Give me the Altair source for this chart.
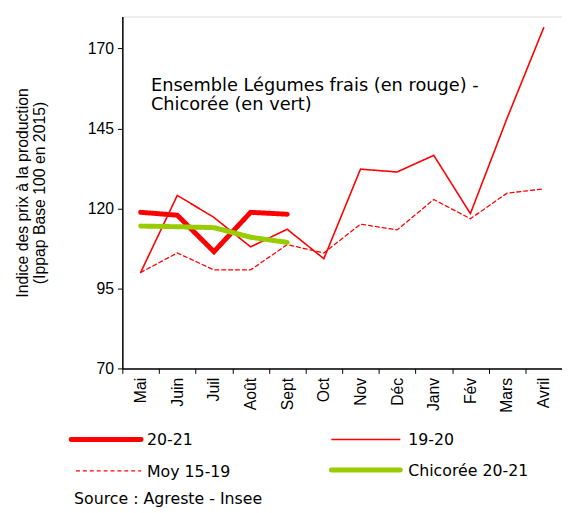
import altair as alt
import pandas as pd

months = ["Mai", "Juin", "Juil", "Août", "Sept", "Oct", "Nov", "Déc", "Janv", "Fév", "Mars", "Avril"]
s_2021 = [118.8, 117.9, 106.5, 118.8, 118.2]
s_1920 = [100.0, 124.1, 117.2, 108.0, 113.5, 104.3, 132.3, 131.4, 136.6, 118.4, 148.2, 176.5]
s_moy = [100.0, 106.1, 100.8, 100.8, 108.7, 106.1, 115.1, 113.3, 122.8, 116.8, 124.8, 126.1]
s_chic = [114.5, 114.3, 114.0, 111.0, 109.4]

series_names = ["20-21", "19-20", "Moy 15-19", "Chicorée 20-21"]
series_vals = [s_2021, s_1920, s_moy, s_chic]
colors = ["#FF0000", "#FF0000", "#FF0000", "#99CC00"]
dashes = [[1, 0], [1, 0], [4, 3], [1, 0]]
widths = [5, 1.6, 1.3, 5]

# legend layout (pixels relative to plot origin): symbol start, symbol end, label x, row y
leg_x0 = [-52, 212, -47, 212]
leg_x1 = [19, 282, 19, 282]
leg_tx = [25, 290, 25, 290]
leg_y = [429, 429, 461, 460]

rows = []
for name, vals in zip(series_names, series_vals):
    for m, v in zip(months, vals):
        rows.append({"mois": m, "valeur": v, "serie": name})
df = pd.DataFrame(rows)

font = "Liberation Sans"
wide = "DejaVu Sans"

lines = alt.Chart(df).mark_line(strokeCap="round").encode(
    x=alt.X("mois:N", sort=months, scale=alt.Scale(type="band", domain=months, paddingInner=0, paddingOuter=0),
            axis=alt.Axis(title=None, labelAngle=-90, labelFontSize=16, labelFont=font, labelColor="black",
                          tickBand="extent", tickColor="black", tickSize=5, domainColor="black",
                          domainWidth=1.5, labelAlign="right", labelBaseline="middle", labelPadding=4)),
    y=alt.Y("valeur:Q", scale=alt.Scale(domain=[70, 180], nice=False, zero=False),
            axis=alt.Axis(values=[70, 95, 120, 145, 170], title=["Indice des prix à la production", "(Ippap Base 100 en 2015)"],
                          titleFont=font, titleFontSize=16, titleFontWeight="normal", titleColor="black",
                          titleLineHeight=18,
                          labelFontSize=16, labelFont=font, labelColor="black", tickColor="black", tickSize=5,
                          domainColor="black", domainWidth=1.5, titlePadding=40, labelPadding=4, grid=False)),
    color=alt.Color("serie:N", scale=alt.Scale(domain=series_names, range=colors), legend=None),
    strokeDash=alt.StrokeDash("serie:N", scale=alt.Scale(domain=series_names, range=dashes), legend=None),
    strokeWidth=alt.StrokeWidth("serie:N", scale=alt.Scale(type="ordinal", domain=series_names, range=widths), legend=None),
)

layers = [lines]

annot = alt.Chart(pd.DataFrame({"t": [["Ensemble Légumes frais (en rouge) -", "Chicorée (en vert)"]]})).mark_text(
    align="left", baseline="middle", font=wide, fontSize=18, color="black", lineHeight=19
).encode(text="t", x=alt.value(29), y=alt.value(71))
layers.append(annot)

for i, name in enumerate(series_names):
    sym = alt.Chart(pd.DataFrame({"serie": [name]})).mark_rule(
        color=colors[i], strokeWidth=widths[i], strokeDash=dashes[i],
        strokeCap="round" if widths[i] >= 4 else "butt"
    ).encode(x=alt.value(leg_x0[i]), x2=alt.value(leg_x1[i]), y=alt.value(leg_y[i]))
    lab = alt.Chart(pd.DataFrame({"serie": [name]})).mark_text(
        align="left", baseline="middle", font=wide, fontSize=16, color="black"
    ).encode(text="serie:N", x=alt.value(leg_tx[i]), y=alt.value(leg_y[i] + 1))
    layers += [sym, lab]

source = alt.Chart(pd.DataFrame({"t": ["Source : Agreste - Insee"]})).mark_text(
    align="left", baseline="middle", font=wide, fontSize=16, color="black"
).encode(text="t", x=alt.value(-49), y=alt.value(490))
layers.append(source)

chart = alt.layer(*layers).properties(
    width=446, height=357,
    autosize=alt.AutoSizeParams(type="none"),
    padding={"left": 116, "top": 5, "right": 0, "bottom": 143},
).configure_view(stroke=None).configure(background="white")

chart.save("out.html", embed_options={"renderer": "svg", "actions": False})
